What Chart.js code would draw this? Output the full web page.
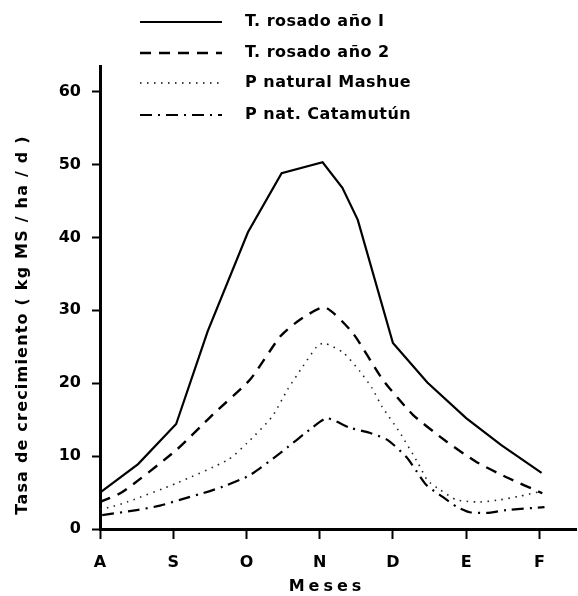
<!DOCTYPE html>
<html>
<head>
<meta charset="utf-8">
<script src="https://cdn.jsdelivr.net/npm/chart.js@4.4.0/dist/chart.umd.min.js"></script>
<style>
  html, body { margin: 0; padding: 0; background: #fff; }
  #wrap { width: 578px; height: 596px; }
</style>
</head>
<body>
<div id="wrap"><canvas id="chart" width="578" height="596"></canvas></div>
<script>
// month labels (x axis), positions are month index 0..6
const months = ['A', 'S', 'O', 'N', 'D', 'E', 'F'];
const yTicks = [0, 10, 20, 30, 40, 50, 60];

// T. rosado año 1 (solid)
const rosado1X = [0, 0.52, 1.04, 1.47, 2.02, 2.48, 3.04, 3.31, 3.52, 4.0, 4.47, 5.0, 5.48, 6.03];
const rosado1Y = [5.0, 8.9, 14.4, 27.1, 40.7, 48.8, 50.3, 46.8, 42.4, 25.5, 20.1, 15.2, 11.5, 7.7];

// T. rosado año 2 (dashed)
const rosado2X = [0, 0.31, 1.05, 1.54, 2.05, 2.46, 2.73, 3.07, 3.45, 3.86, 4.27, 4.73, 5.14, 5.55, 6.04];
const rosado2Y = [3.7, 5.1, 10.9, 15.7, 20.5, 26.4, 28.7, 30.4, 26.9, 20.5, 15.7, 12.0, 9.2, 7.1, 4.9];

// P natural Mashue (dotted)
const mashueX = [0, 0.14, 0.37, 1.05, 1.75, 2.01, 2.35, 2.56, 2.77, 2.96, 3.06, 3.32, 3.55, 3.71, 3.85, 4.09, 4.34, 4.47, 4.64, 4.87, 5.18, 5.46, 5.73, 6.0];
const mashueY = [2.7, 3.0, 3.7, 6.3, 9.5, 11.8, 15.4, 19.1, 22.3, 25.0, 25.5, 24.2, 21.6, 19.4, 16.8, 13.3, 9.1, 6.7, 5.4, 4.0, 3.7, 4.0, 4.5, 5.1];

// P nat. Catamutún (dash-dot)
const catamutunX = [0.03, 0.5, 0.82, 1.09, 1.5, 1.73, 2.05, 2.46, 2.91, 3.1, 3.41, 3.68, 3.93, 4.19, 4.33, 4.46, 4.68, 4.88, 5.05, 5.28, 5.55, 6.07];
const catamutunY = [1.9, 2.6, 3.2, 4.0, 5.2, 6.0, 7.4, 10.4, 14.0, 15.2, 13.9, 13.2, 12.2, 9.8, 7.8, 6.0, 4.4, 3.0, 2.3, 2.2, 2.6, 3.0];

const seriesLabels = ['T. rosado año I', 'T. rosado año 2', 'P natural Mashue', 'P nat. Catamutún'];

const toPoints = (xs, ys) => xs.map((x, i) => ({ x: x, y: ys[i] }));

const FONT = '"DejaVu Sans", sans-serif';

// legend + axis titles drawn by hand so spacing can match the scan
const extraText = {
  id: 'extraText',
  afterDraw(chart) {
    const ctx = chart.ctx;
    const rows = [22, 53, 83, 115];
    ctx.save();
    chart.data.datasets.forEach((ds, i) => {
      const y = rows[i];
      ctx.strokeStyle = '#000';
      ctx.lineWidth = ds.borderWidth;
      ctx.setLineDash(ds.borderDash || []);
      ctx.beginPath();
      ctx.moveTo(140, y);
      ctx.lineTo(222, y);
      ctx.stroke();
      ctx.setLineDash([]);
      ctx.fillStyle = '#000';
      ctx.font = 'bold 16px ' + FONT;
      ctx.letterSpacing = '0.5px';
      ctx.textBaseline = 'middle';
      ctx.textAlign = 'left';
      ctx.fillText(ds.label, 245, y);
    });

    // y title
    ctx.save();
    ctx.translate(23, 325);
    ctx.rotate(-Math.PI / 2);
    ctx.font = 'bold 16px ' + FONT;
    ctx.letterSpacing = '1.2px';
    ctx.textAlign = 'center';
    ctx.textBaseline = 'middle';
    ctx.fillText('Tasa de crecimiento ( kg MS / ha / d )', 0, 0);
    ctx.restore();

    // x title
    ctx.font = 'bold 16px ' + FONT;
    ctx.letterSpacing = '4px';
    ctx.textAlign = 'center';
    ctx.textBaseline = 'middle';
    ctx.fillText('Meses', 327, 587);
    ctx.restore();
  }
};

new Chart(document.getElementById('chart'), {
  type: 'line',
  data: {
    datasets: [
      {
        label: seriesLabels[0],
        data: toPoints(rosado1X, rosado1Y),
        borderColor: '#000',
        borderWidth: 2.2,
        tension: 0,
      },
      {
        label: seriesLabels[1],
        data: toPoints(rosado2X, rosado2Y),
        borderColor: '#000',
        borderWidth: 2.4,
        borderDash: [11, 8],
        tension: 0.2,
      },
      {
        label: seriesLabels[2],
        data: toPoints(mashueX, mashueY),
        borderColor: '#222',
        borderWidth: 1.6,
        borderDash: [1.5, 5.5],
        tension: 0.2,
      },
      {
        label: seriesLabels[3],
        data: toPoints(catamutunX, catamutunY),
        borderColor: '#000',
        borderWidth: 2.2,
        borderDash: [12, 6, 2, 6],
        tension: 0.2,
      },
    ],
  },
  options: {
    responsive: false,
    animation: false,
    layout: { padding: { top: 66, right: 2, left: 0, bottom: 0 } },
    elements: { point: { radius: 0 } },
    plugins: {
      legend: { display: false },
      tooltip: { enabled: false },
    },
    scales: {
      x: {
        type: 'linear',
        min: 0,
        max: 6.5,
        afterBuildTicks: s => { s.ticks = months.map((m, i) => ({ value: i })); },
        afterFit: s => { s.height = 67; },
        ticks: {
          color: '#000',
          font: { family: FONT, size: 16, weight: 'bold' },
          padding: 14,
          maxRotation: 0,
          callback: v => months[v] || '',
        },
        grid: { drawOnChartArea: false, tickLength: 10, tickWidth: 2, tickColor: '#000' },
        border: { color: '#000', width: 3 },
      },
      y: {
        min: 0,
        max: 63.5,
        afterBuildTicks: s => { s.ticks = yTicks.map(v => ({ value: v })); },
        afterFit: s => { s.width = 100; },
        ticks: {
          color: '#000',
          font: { family: FONT, size: 16, weight: 'bold' },
          padding: 11,
        },
        grid: { drawOnChartArea: false, tickLength: 8, tickWidth: 2, tickColor: '#000' },
        border: { color: '#000', width: 3 },
      },
    },
  },
  plugins: [extraText],
});
</script>
</body>
</html>
